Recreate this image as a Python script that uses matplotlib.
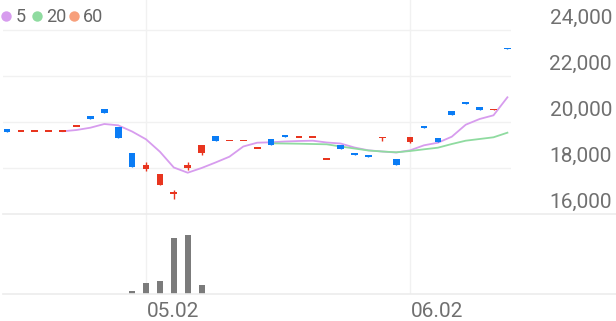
import matplotlib.pyplot as plt
from matplotlib.lines import Line2D

plt.rcParams['font.family'] = ['Roboto', 'DejaVu Sans']

# daily candles (open, high, low, close)
opens = [19680, 19600, 19600, 19600, 19600, 19840, 20270, 20550, 19800, 18650,
         17970, 17260, 16880, 17990, 18640, 19390, 19190, 19190, 18870, 19250,
         19430, 19360, 19360, 18390, 19000, 18660, 18580, 19290, 18380, 19140,
         19840, 19290, 20490, 20870, 20640, 20540, 23230]
highs = [19680, 19600, 19600, 19600, 19600, 19840, 20270, 20550, 19800, 18650,
         18260, 17740, 17040, 18260, 19000, 19390, 19190, 19190, 18870, 19250,
         19430, 19360, 19360, 18390, 19000, 18660, 18580, 19360, 18380, 19340,
         19840, 19290, 20490, 20870, 20640, 20560, 23230]
lows = [19560, 19600, 19600, 19600, 19600, 19840, 20120, 20400, 19290, 18050,
        17880, 17260, 16670, 17910, 18560, 19170, 19190, 19190, 18870, 19000,
        19340, 19360, 19360, 18390, 18830, 18580, 18490, 19190, 18130, 19070,
        19730, 19140, 20300, 20780, 20520, 20510, 23160]
closes = [19570, 19600, 19600, 19600, 19600, 19840, 20120, 20400, 19290, 18050,
          18140, 17740, 16920, 18130, 19000, 19170, 19190, 19190, 18870, 19000,
          19340, 19360, 19360, 18390, 18830, 18580, 18490, 19360, 18130, 19330,
          19730, 19140, 20300, 20780, 20520, 20540, 23160]
volumes = [0, 0, 0, 0, 0, 0, 0, 0, 6000, 30000,
           116000, 133000, 566000, 590000, 93000, 6000, 0, 0, 0, 5000,
           5000, 0, 0, 0, 0, 5000, 0, 5000, 0, 0,
           0, 5000, 5000, 5000, 0, 0, 0]

# moving averages as drawn
ma5_start = 4
ma5 = [19595, 19652, 19752, 19913, 19856, 19587, 19248, 18709, 18022, 17795,
       18000, 18239, 18491, 18935, 19100, 19117, 19152, 19174, 19187, 19109,
       19065, 18891, 18769, 18717, 18674, 18769, 18987, 19100, 19361, 19882,
       20130, 20291, 21074]
ma20_start = 19
ma20 = [19074, 19065, 19056, 19043, 19030, 18935, 18848, 18761, 18717, 18683,
        18739, 18813, 18883, 19043, 19187, 19261, 19335, 19535]

tick_idx = [10, 29]
tick_labels = ["05.02", "06.02"]
price_ticks = [16000, 18000, 20000, 22000, 24000]

legend_names = ["5", "20", "60"]
legend_colors = ["#d79cee", "#8fdba0", "#f7a07c"]

RED = "#e8351f"
BLUE = "#0a7cf5"
GRID = "#f1f1f1"
TXT = "#707070"

W, H = 616, 321
fig = plt.figure(figsize=(W / 100, H / 100), dpi=100)

left, right = 3, 511
xlim = ((left - 7) / 13.9, (right - 7) / 13.9)

ax = fig.add_axes([left / W, (H - 214) / H, (right - left) / W, 214 / H])
vax = fig.add_axes([left / W, (H - 294.3) / H, (right - left) / W, 80.3 / H])

for a in (ax, vax):
    a.set_xlim(*xlim)
    a.axis("off")
    for t in tick_idx:
        a.axvline(t, color=GRID, lw=1, zorder=0)

ax.set_ylim(16000, 24000 + 30 * 2000 / 46)
vax.set_ylim(0, 803000)

for v in price_ticks[1:]:
    ax.axhline(v, color=GRID, lw=1, zorder=0)

# candles
n = len(opens)
xs = list(range(n))
for i in xs:
    o, h, l, c = opens[i], highs[i], lows[i], closes[i]
    col = BLUE if c < o else RED
    lo_b = min(o, c)
    hgt = max(abs(c - o), 75)
    if abs(c - o) < 75:
        lo_b = (o + c) / 2 - 37.5
    ax.vlines(i, l, h, color=col, lw=1, zorder=3)
    ax.bar(i, hgt, bottom=lo_b, width=0.48, color=col, zorder=3)

ax.plot(range(ma5_start, ma5_start + len(ma5)), ma5, color=legend_colors[0],
        lw=1.3, zorder=2)
ax.plot(range(ma20_start, ma20_start + len(ma20)), ma20, color=legend_colors[1],
        lw=1.3, zorder=2)

vax.bar(xs, volumes, width=0.43, color="#7b7b7b", zorder=2)

# separator and baseline across whole width
for yp in (214, 294.3):
    fig.add_artist(Line2D([left / W, 1], [(H - yp) / H] * 2, color="#ececec", lw=1.2))

# price labels sit just above their gridline
for v in price_ticks:
    ax.annotate(f"{v:,}", xy=(1, v), xycoords=("axes fraction", "data"),
                xytext=(72.7, 4.3), textcoords="offset points",
                ha="right", va="baseline", fontsize=15, color=TXT)

for t, lab in zip(tick_idx, tick_labels):
    vax.annotate(lab, xy=(t, 0), xycoords="data", xytext=(0.7, -16.1),
                 textcoords="offset points", ha="left", va="baseline",
                 fontsize=15, color=TXT, annotation_clip=False)

# legend
dot_x = [6, 37, 74]
txt_x = [15.5, 46, 82.5]
for name, col, dx, tx in zip(legend_names, legend_colors, dot_x, txt_x):
    fig.add_artist(Line2D([dx / W], [(H - 16) / H], marker="o", markersize=7.5,
                          color=col, markeredgewidth=0, linestyle="none"))
    fig.text(tx / W, (H - 21.7) / H, name, fontsize=13, color="#666666",
             ha="left", va="baseline")

fig.savefig("out.png", dpi=100)
